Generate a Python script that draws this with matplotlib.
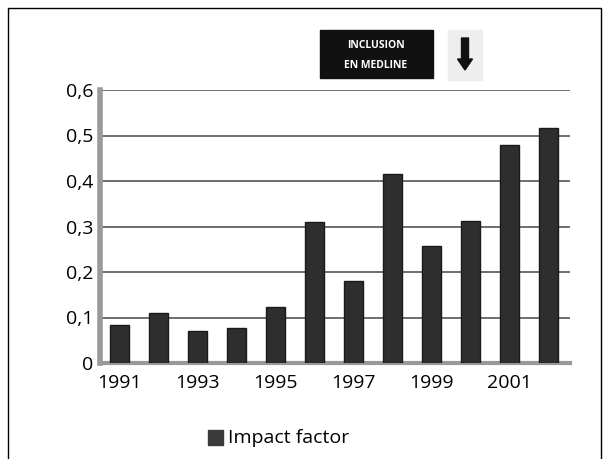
import matplotlib.pyplot as plt
from matplotlib.patches import Rectangle, FancyArrow

years = list(range(1991, 2003))
impact = [0.083, 0.11, 0.07, 0.077, 0.123, 0.31, 0.18, 0.415, 0.257, 0.312, 0.48, 0.517]
yticks = [0, 0.1, 0.2, 0.3, 0.4, 0.5, 0.6]
ylabels = ["0", "0,1", "0,2", "0,3", "0,4", "0,5", "0,6"]
xticks = [1991, 1993, 1995, 1997, 1999, 2001]

plt.rcParams["font.family"] = ["Open Sans", "DejaVu Sans"]

fig = plt.figure(figsize=(6.09, 4.59), dpi=100)
ax = fig.add_axes([100 / 609, 1 - 363 / 459, 470 / 609, 273 / 459])

ax.bar(years, impact, width=0.5, color="#2e2e2e", edgecolor="#1a1a1a", zorder=3, label="Impact factor")

ax.set_xlim(1990.5, 2002.55)
ax.set_ylim(0, 0.6)
ax.set_yticks(yticks)
ax.set_yticklabels(ylabels, fontsize=14)
ax.set_xticks(xticks)
ax.set_xticklabels([str(y) for y in xticks], fontsize=14)
ax.tick_params(axis="y", length=0, pad=5)
ax.tick_params(axis="x", length=0, pad=8)
ax.grid(True, axis="y", color="#555555", linewidth=1.2, zorder=0)

for side in ["top", "right"]:
    ax.spines[side].set_visible(False)
ax.spines["left"].set_color("#999999")
ax.spines["left"].set_linewidth(4)
ax.spines["bottom"].set_color("#999999")
ax.spines["bottom"].set_linewidth(3)

# outer frame
fig.patches.append(Rectangle((8 / 609, -0.01), 593 / 609, 1 - 8 / 459 + 0.01,
                             transform=fig.transFigure, fill=False,
                             edgecolor="black", linewidth=1))

# "Inclusion en Medline" marker
fig.patches.append(Rectangle((320 / 609, 1 - 78 / 459), 113 / 609, 48 / 459,
                             transform=fig.transFigure, color="#111111"))
fig.text(376 / 609, 1 - 45 / 459, "INCLUSION", color="white", fontsize=7.5,
         fontweight="bold", ha="center", va="center")
fig.text(376 / 609, 1 - 65 / 459, "EN MEDLINE", color="white", fontsize=7.5,
         fontweight="bold", ha="center", va="center")
fig.patches.append(Rectangle((448 / 609, 1 - 80 / 459), 34 / 609, 50 / 459,
                             transform=fig.transFigure, color="#eeeeee"))
fig.patches.append(FancyArrow(465 / 609, 1 - 38 / 459, 0, -32 / 459,
                              width=7 / 609, head_width=15 / 609, head_length=11 / 459,
                              length_includes_head=True, transform=fig.transFigure,
                              color="#111111"))

# legend
fig.patches.append(Rectangle((208 / 609, 1 - 445 / 459), 15 / 609, 15 / 459,
                             transform=fig.transFigure, color="#3a3a3a"))
fig.text(228 / 609, 1 - 438 / 459, "Impact factor", fontsize=14, va="center", ha="left")

plt.savefig("out.png", dpi=100)
